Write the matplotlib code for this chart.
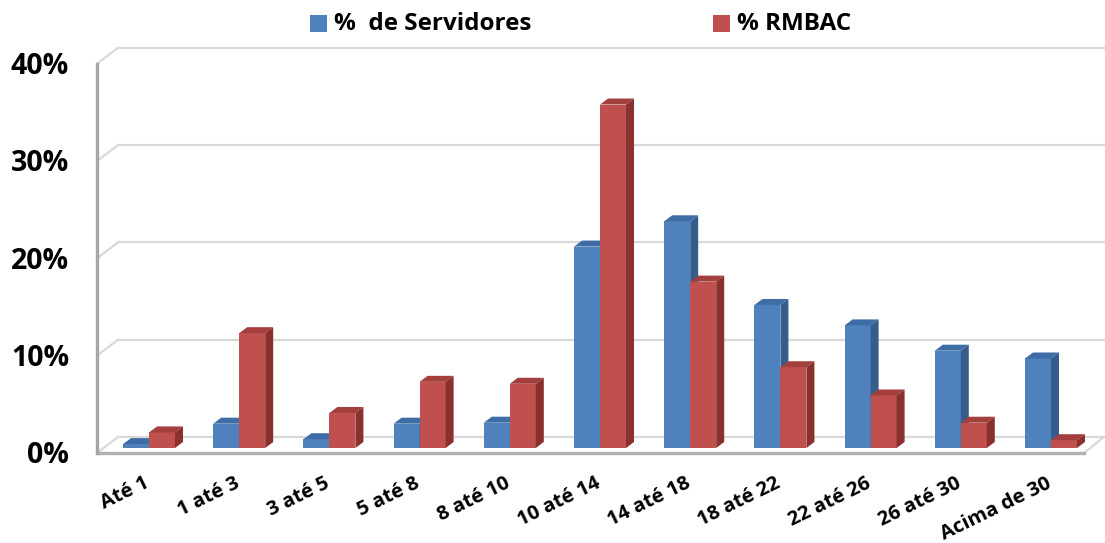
import matplotlib
matplotlib.use("Agg")
import matplotlib.pyplot as plt
from matplotlib.patches import Polygon, Rectangle

categorias = ["Até 1", "1 até 3", "3 até 5", "5 até 8", "8 até 10", "10 até 14",
              "14 até 18", "18 até 22", "22 até 26", "26 até 30", "Acima de 30"]
servidores = [0.4, 2.5, 0.9, 2.5, 2.6, 20.7, 23.3, 14.7, 12.6, 10.0, 9.2]
rmbac = [1.6, 11.8, 3.6, 6.8, 6.6, 35.3, 17.1, 8.3, 5.4, 2.6, 0.8]
yticks = [0, 10, 20, 30, 40]
series_names = ["%  de Servidores", "% RMBAC"]

FONT = "Open Sans"

# pixel scale of the drawing (figure 1105x543 at dpi 100)
U = 90.2   # px per category
V = 9.73   # px per percent

# colours: front, top, side
BLUE = ("#4F81BD", "#3E6DA6", "#355C8A")
RED = ("#C0504D", "#A3403D", "#8A302E")

fig = plt.figure(figsize=(11.05, 5.43), dpi=100)
ax = fig.add_axes([0, 0, 1, 1])
ax.set_xlim(-149 / U, (1105 - 149) / U)
ax.set_ylim((448 - 543) / V, 448 / V)
ax.axis("off")

# walls
xf, yf = -52 / U, -5 / V          # front-left corner of the floor
xb, yb = -31 / U, 11 / V          # back-left corner
xr = (1104 - 149) / U             # right end of back wall
xfr = (1084 - 149) / U            # right end of floor front edge
grid_c = "#D9D9D9"
for k in yticks:
    ax.plot([xf, xb], [k + yf, k + yb], color=grid_c, lw=1.6, zorder=1)
    ax.plot([xb, xr], [k + yb, k + yb], color=grid_c, lw=1.6, zorder=1)
ax.plot([xfr, xr], [yf, yb], color=grid_c, lw=1.6, zorder=1)
ax.plot([xf, xfr], [yf, yf], color="#B0B0B0", lw=2.4, zorder=1)
ax.plot([xf, xf], [yf, yticks[-1] + yf], color="#A6A6A6", lw=2.4, zorder=1)

# 3d-looking bars
w = 26 / U
bdx, bdy = 8 / U, 6 / V


def bar3d(x0, h, cols, z):
    front = [(x0, 0), (x0 + w, 0), (x0 + w, h), (x0, h)]
    top = [(x0, h), (x0 + w, h), (x0 + w + bdx, h + bdy), (x0 + bdx, h + bdy)]
    side = [(x0 + w, 0), (x0 + w + bdx, bdy), (x0 + w + bdx, h + bdy), (x0 + w, h)]
    ax.add_patch(Polygon(front, closed=True, fc=cols[0], ec="none", zorder=z))
    ax.add_patch(Polygon(top, closed=True, fc=cols[1], ec="none", zorder=z))
    ax.add_patch(Polygon(side, closed=True, fc=cols[2], ec="none", zorder=z))


for i, (s, r) in enumerate(zip(servidores, rmbac)):
    bar3d(i - w, s, BLUE, 3)
    bar3d(i, r, RED, 4)

# y tick labels
for k in yticks:
    ax.text((69 - 149) / U, k - 0.8, f"{k}%", ha="right", va="center",
            fontsize=20.5, fontweight="bold", family=FONT)

# x tick labels
for i, c in enumerate(categorias):
    ax.text(i - 0.06, -2.6, c, ha="right", va="top", rotation=26,
            rotation_mode="anchor", fontsize=14.5, fontweight="bold", family=FONT)

# legend drawn by hand so both entries sit where they should
for x_sq, col, name in zip([310, 713], [BLUE[0], RED[0]], series_names):
    fig.add_artist(Rectangle((x_sq / 1105, 1 - 32 / 543), 17 / 1105, 17 / 543,
                             transform=fig.transFigure, fc=col, ec="none"))
    fig.text((x_sq + 24) / 1105, 1 - 24 / 543, name, ha="left", va="center",
             fontsize=17.5, fontweight="bold", family=FONT)

fig.savefig("out.png", dpi=100)
